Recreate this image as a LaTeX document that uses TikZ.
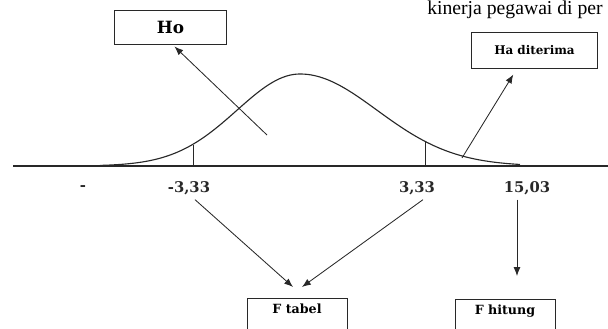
\documentclass[tikz,border=0pt]{standalone}
\usepackage{fontspec}
\setmainfont{DejaVu Serif}
\newfontfamily\captionfont{Liberation Serif}
\usepackage{tikz}
\usetikzlibrary{arrows.meta}
\definecolor{inkline}{RGB}{40,40,40}

\begin{document}
\begin{tikzpicture}[x=0.025cm,y=-0.025cm,
  axisline/.style={draw=inkline,line width=1.2pt},
  curve/.style={draw=inkline,line width=0.8pt},
  cut/.style={draw=inkline,line width=0.6pt},
  arr/.style={-{Latex[length=2.2mm,width=1.7mm]},draw=inkline,line width=0.6pt},
  hbox/.style={draw=inkline,line width=0.6pt,font=\bfseries,inner sep=0pt},
  fbox/.style={draw=inkline,line width=0.6pt,font=\fontsize{9}{10}\selectfont\bfseries,
               inner sep=0pt,minimum width=2.5cm,text height=0.375cm,text depth=0.625cm},
  val/.style={font=\fontsize{10.5}{12}\selectfont\bfseries,text=inkline}
]
\clip (0,0) rectangle (608,329);

% Text line at the top
\node[anchor=base west,inner sep=0pt,font=\captionfont\fontsize{14}{16}\selectfont]
  (cap) at (427,14) {kinerja pegawai di per};

% Hypothesis boxes
\node[hbox,font=\fontsize{12}{14}\selectfont\bfseries,minimum width=2.78cm,minimum height=0.83cm]
  (ho) at (170.5,27.5) {Ho};
\node[hbox,font=\fontsize{8.5}{10}\selectfont\bfseries,minimum width=3.13cm,minimum height=0.88cm]
  (ha) at (534.5,50.5) {Ha diterima};

% Axis and curve
\coordinate (axL) at (13,166);
\coordinate (axR) at (608,166);
\draw[axisline] (axL) -- (axR);
\draw[curve] plot[domain=100:300,samples=60] (\x,{166-92*exp(-((\x-300)/63)^2/2)})
  -- plot[domain=300:520,samples=60] (\x,{166-92*exp(-((\x-300)/77)^2/2)});

% Critical values
\coordinate (cutL) at (193,145);
\coordinate (cutR) at (425,142);
\draw[cut] (cutL) -- (cutL |- axL);
\draw[cut] (cutR) -- (cutR |- axL);

% Axis labels
\node[val] (minus) at (83,188) {-};
\node[val] (m333) at (189,188) {-3,33};
\node[val] (p333) at (417,188) {3,33};
\node[val] (f1503) at (527,188) {15,03};

% Bottom boxes
\node[fbox,anchor=north] (ftabel) at (297,298) {F tabel};
\node[fbox,anchor=north] (fhitung) at (505,299) {F hitung};

% Arrows
\coordinate (hoTail) at (267,135);
\coordinate (haTail) at (462,158);
\coordinate (tipL) at (293,287);
\coordinate (tipR) at (302,287);
\coordinate (hitTip) at (517,276);
\draw[arr] (hoTail) -- ([xshift=0.1cm,yshift=-0.05cm]ho.south);
\draw[arr] (haTail) -- ([xshift=-0.53cm,yshift=-0.15cm]ha.south);
\draw[arr] ([xshift=0.15cm]m333.south) -- (tipL);
\draw[arr] ([xshift=0.15cm]p333.south) -- (tipR);
\draw[arr] (f1503.south -| hitTip) -- (hitTip);

\end{tikzpicture}
\end{document}
